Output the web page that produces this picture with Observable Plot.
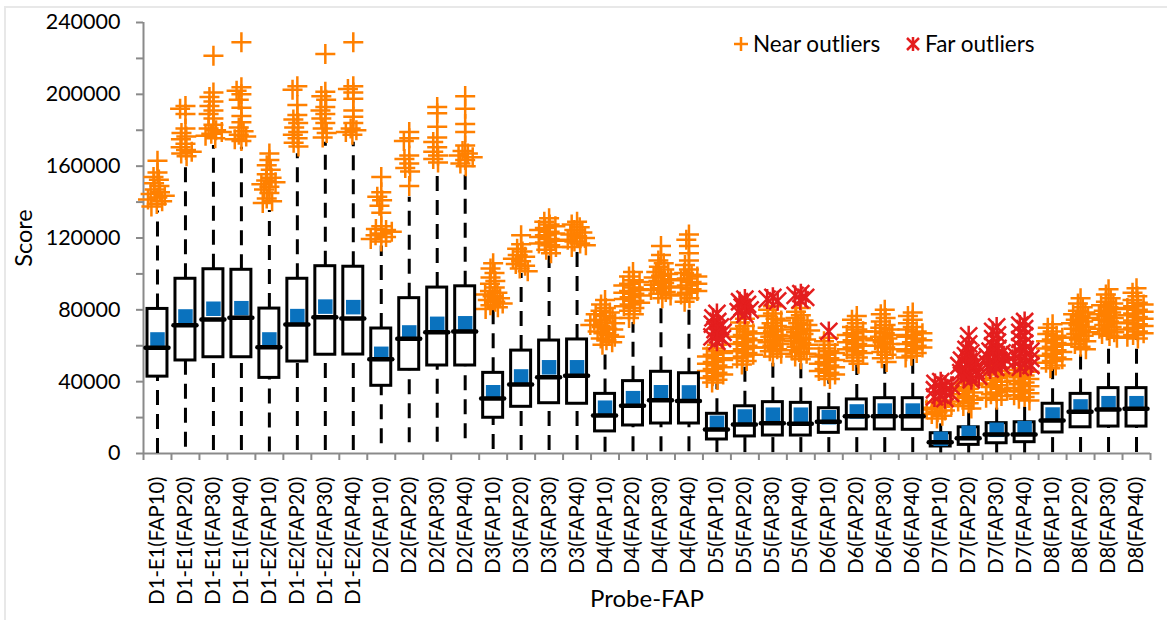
<!DOCTYPE html>
<html>
<head>
<meta charset="utf-8">
<script src="https://cdn.jsdelivr.net/npm/d3@7"></script>
<script src="https://cdn.jsdelivr.net/npm/@observablehq/plot@0.6"></script>
<style>
  body { margin: 0; background: #ffffff; }
  #chart { position: relative; width: 1167px; height: 620px; overflow: hidden; font-family: Lato, "Open Sans", sans-serif; }
  #chart .edge { position: absolute; left: 4px; top: 6px; width: 1200px; height: 700px; border-top: 2px solid #e8e8e8; border-left: 2px solid #e8e8e8; }
  #chart svg.plot { position: absolute; left: 0; top: 0; }
  .legend-item { position: absolute; display: flex; align-items: center; font-size: 22.5px; color: #000; white-space: nowrap; }
  .legend-item svg { margin-right: 4px; }
</style>
</head>
<body>
<div id="chart">
  <div class="edge"></div>
</div>
<script>
// Probe / false-alarm-point combinations along the horizontal axis
const categories = [
  "D1-E1(FAP10)", "D1-E1(FAP20)", "D1-E1(FAP30)", "D1-E1(FAP40)",
  "D1-E2(FAP10)", "D1-E2(FAP20)", "D1-E2(FAP30)", "D1-E2(FAP40)",
  "D2(FAP10)", "D2(FAP20)", "D2(FAP30)", "D2(FAP40)",
  "D3(FAP10)", "D3(FAP20)", "D3(FAP30)", "D3(FAP40)",
  "D4(FAP10)", "D4(FAP20)", "D4(FAP30)", "D4(FAP40)",
  "D5(FAP10)", "D5(FAP20)", "D5(FAP30)", "D5(FAP40)",
  "D6(FAP10)", "D6(FAP20)", "D6(FAP30)", "D6(FAP40)",
  "D7(FAP10)", "D7(FAP20)", "D7(FAP30)", "D7(FAP40)",
  "D8(FAP10)", "D8(FAP20)", "D8(FAP30)", "D8(FAP40)"
];

// Box statistics of the score for each category
const q1 = [42800, 51800, 53600, 53600, 42100, 51200, 55000, 55100, 37700, 46600, 49000, 49000,
  19900, 26000, 28000, 27700, 12300, 15600, 16700, 16700, 7800, 9500, 10000, 10000,
  11500, 13400, 13400, 13200, 3900, 4800, 5700, 6300, 11700, 14600, 15000, 15000];
const q3 = [80500, 97300, 102600, 102300, 80700, 97300, 104300, 104000, 69600, 86500, 92400, 93100,
  44900, 57300, 62900, 63500, 33200, 40300, 45500, 44700, 22100, 26300, 28600, 28200,
  25200, 30100, 30800, 30800, 11300, 14600, 16900, 17400, 27700, 33200, 36400, 36400];
const median = [58900, 71400, 74600, 75600, 59200, 71800, 75900, 75200, 52500, 63900, 67500, 67900,
  30600, 38400, 42500, 43300, 21200, 26600, 29700, 29300, 13400, 16200, 16900, 16500,
  17700, 20800, 20800, 20800, 6300, 8500, 10600, 10600, 18400, 23200, 24500, 24900];
const mean = [63500, 76300, 80600, 80900, 63500, 76500, 81800, 81500, 55500, 67400, 72200, 72500,
  34100, 42900, 48000, 48000, 25500, 30800, 34100, 34000, 17100, 20600, 21600, 21600,
  20200, 23400, 23900, 23900, 8200, 11500, 13200, 14100, 21700, 26200, 28000, 28000];
const whiskerLow = [0, 3500, 1700, 1700, 900, 1700, 1700, 1700, 5400, 6000, 6300, 8200,
  2200, 1700, 1700, 1700, 700, 1000, 1000, 1000, 500, 500, 500, 500,
  500, 500, 500, 500, 300, 300, 300, 300, 500, 500, 500, 500];
const whiskerHigh = [135000, 161500, 171500, 170500, 135300, 166900, 173300, 173300, 115500, 142700, 158500, 157600,
  80000, 100200, 110000, 114000, 59200, 73000, 84000, 81500, 38800, 48000, 52700, 52200,
  40600, 49000, 49500, 52700, 16500, 23000, 27700, 28600, 47200, 57400, 63900, 63900];

// Near outliers per category
const nearOutliers = [
  [163000, 156500, 154000, 152500, 150500, 149000, 147000, 145500, 144500, 143500, 142500, 141500, 140500, 139000, 137500],
  [193500, 192000, 189000, 181000, 178500, 176500, 175000, 172500, 170500, 169000, 168000, 167000, 165500],
  [221500, 201000, 198500, 196000, 193500, 191000, 189000, 186500, 183000, 181000, 180000, 179000, 178000, 177000, 175500],
  [229000, 204000, 202000, 200000, 197000, 192500, 188000, 184500, 181500, 179500, 177500, 176500, 175000, 174000],
  [167000, 163500, 160500, 158000, 155500, 153500, 152000, 151000, 150000, 148500, 147000, 145000, 142000, 140500, 139500],
  [204500, 202500, 194000, 188500, 186000, 184000, 181500, 179000, 177500, 175500, 173000, 171000],
  [222500, 201500, 199000, 197000, 193000, 191000, 189000, 186500, 184000, 181000, 178500, 176000],
  [229000, 204500, 203000, 201000, 197500, 191000, 187500, 184000, 181000, 180000, 179000, 177500],
  [154000, 145500, 143000, 141000, 138000, 134000, 126500, 125000, 124500, 123500, 122500, 121500, 120500, 119500, 118000],
  [179000, 175500, 174000, 166000, 164000, 161500, 159000, 157000, 149000],
  [193000, 189500, 182000, 176000, 173500, 170500, 168000, 166000, 164000, 162000],
  [199000, 192000, 183500, 179000, 171500, 168500, 167000, 166000, 165000, 163500, 161500, 160000],
  [106000, 103000, 100500, 98000, 96000, 94500, 92500, 90500, 89500, 88500, 87500, 86500, 85500, 84500, 83500, 82500, 81500, 80500],
  [121500, 116500, 114000, 112500, 110500, 109500, 108500, 107000, 105500, 104500, 103000, 101500],
  [131000, 129000, 127500, 126500, 125500, 124500, 123500, 122500, 121500, 120500, 119500, 118500, 117500, 117000, 116000, 115000, 113500, 111500],
  [129000, 127500, 126000, 124500, 123000, 122000, 121000, 120000, 119000, 118000, 117000, 116000, 115000],
  [85500, 83000, 81000, 79500, 78500, 77500, 76500, 75500, 74500, 74000, 73000, 72500, 71500, 70500, 69500, 69000, 68000, 67000, 66000, 65000, 64000, 63000, 62000, 60500],
  [101000, 98500, 96500, 95500, 94500, 93500, 92500, 91500, 90500, 89500, 89000, 88000, 87000, 86000, 85000, 84000, 83000, 82000, 81000, 79500, 77500, 75500],
  [115500, 110500, 107500, 106000, 104000, 102500, 101000, 100000, 99000, 98000, 97000, 96000, 95000, 94000, 93000, 92000, 91000, 90000, 89000, 88000, 86500],
  [122000, 119000, 115500, 111500, 107500, 105000, 102500, 100500, 99500, 98500, 97500, 96500, 95500, 94500, 93500, 92500, 91500, 90500, 89500, 88500, 86500, 84500],
  [60500, 58500, 57000, 56000, 55000, 54000, 53000, 52000, 51000, 50000, 49000, 48000, 47000, 46000, 45000, 44000, 43000, 42000, 41000, 39500],
  [75000, 73000, 71000, 69500, 68000, 67000, 66000, 65000, 64000, 63000, 62000, 61000, 60000, 59000, 58000, 57000, 56000, 55000, 54000, 53000, 51500, 49500],
  [82000, 80000, 78000, 76500, 75000, 74000, 72500, 71000, 70000, 69000, 68000, 67000, 66000, 65000, 64000, 63000, 62000, 61000, 60000, 59000, 58000, 57000, 55500, 54000],
  [81000, 79000, 77000, 75500, 74000, 72500, 71500, 70500, 69500, 68500, 67500, 66500, 65500, 64500, 63500, 62500, 61500, 60500, 59500, 58500, 57500, 56500, 55500, 54000, 52500],
  [64500, 62500, 60500, 58500, 57000, 56000, 55000, 54000, 53000, 52000, 51000, 50000, 49000, 48000, 47000, 46000, 45000, 44000, 43000, 41500],
  [76500, 74500, 72500, 70500, 69000, 68000, 67000, 66000, 65000, 64000, 63000, 62000, 61000, 60000, 59000, 58000, 57000, 56000, 55000, 53500, 51500, 50000],
  [80000, 77500, 75500, 73500, 71500, 70000, 69000, 68000, 67000, 66000, 65000, 64000, 63000, 62000, 61000, 60000, 59000, 58000, 56500, 55000, 53000, 51000],
  [78500, 76500, 74500, 72500, 70500, 69000, 68000, 67000, 66000, 65000, 64000, 63000, 62000, 61000, 60000, 59000, 58000, 57000, 56000, 54500, 53500],
  [29500, 28500, 27500, 27000, 26000, 25500, 24500, 24000, 23000, 22000, 21000, 19500],
  [40000, 39000, 38000, 37000, 36000, 35000, 34000, 33000, 32000, 31000, 30000, 29000, 28000, 26500, 25000],
  [46000, 45000, 44000, 43000, 42000, 41000, 40000, 39000, 38000, 37000, 36000, 35000, 34000, 33000, 32000, 31000, 30000],
  [47500, 46500, 45500, 44500, 43500, 42500, 41500, 40500, 39500, 38500, 37500, 36500, 35500, 34500, 33500, 32500, 31500, 30500, 29500],
  [72000, 70000, 68000, 66500, 65500, 64500, 63500, 62500, 61500, 60500, 59500, 58500, 57500, 56500, 55500, 54500, 53500, 52500, 51500, 50500, 49000, 47500],
  [86500, 83500, 81500, 79500, 78500, 77500, 76500, 75500, 74500, 73500, 72500, 71500, 70500, 69500, 68500, 67500, 66500, 65500, 64500, 63500, 62500, 61000, 59500, 58000],
  [91500, 88500, 86500, 84500, 83500, 82500, 81500, 80500, 79500, 78500, 77500, 76500, 75500, 74500, 73500, 72500, 71500, 70500, 69500, 68500, 67500, 66500, 65500, 64500],
  [92000, 89500, 87500, 85500, 84000, 83000, 82000, 81000, 80000, 79000, 78000, 77000, 76000, 75000, 74000, 73000, 72000, 71000, 70000, 69000, 68000, 67000, 66000, 65000, 64000]
];

// Far outliers per category
const farOutliers = [
  [], [], [], [], [], [], [], [], [], [], [], [],
  [], [], [], [], [], [], [], [],
  [78000, 75500, 73500, 72000, 70500, 69000, 67500, 66000, 65000, 64000, 62500],
  [86000, 84500, 83000, 81500, 80000, 79000, 77500],
  [87000, 86000, 85000],
  [89000, 88000, 87000, 85500],
  [68000], [], [], [],
  [40000, 39000, 38000, 37500, 36500, 35500, 34500, 33500, 32500, 31500, 30500],
  [65500, 61000, 58000, 56000, 54500, 53000, 52000, 51000, 50000, 49000, 48000, 47000, 46000, 45000, 44000, 43000, 42000, 41000],
  [70500, 68000, 66000, 64000, 62000, 60000, 58500, 57000, 56000, 55000, 54000, 53000, 52000, 51000, 50000, 49000, 48000, 47000],
  [73500, 71500, 69500, 67500, 65500, 63500, 61500, 59500, 58000, 57000, 56000, 55000, 54000, 53000, 52000, 51000, 50000, 49000, 48000],
  [], [], [], []
];

// Y axis tick values and labels
const yTicks = [0, 20000, 40000, 60000, 80000, 100000, 120000, 140000, 160000, 180000, 200000, 220000, 240000];
const yLabeled = [0, 40000, 80000, 120000, 160000, 200000, 240000];

const axisGrey = "#8a8a8a";
const orange = "#ff8000";
const red = "#e41e1e";
const blue = "#0a72be";

// Tables built from the arrays above
const stats = categories.map((cat, i) => ({
  cat, q1: q1[i], q3: q3[i], median: median[i], mean: mean[i], lo: whiskerLow[i], hi: whiskerHigh[i]
}));
const near = categories.flatMap((cat, i) => nearOutliers[i].map(value => ({cat, value})));
const far = categories.flatMap((cat, i) => farOutliers[i].map(value => ({cat, value})));
const edges = categories.map(cat => ({cat, edge: 0}))
  .concat([{cat: categories[categories.length - 1], edge: 1}]);

// Star marker: a vertical stroke crossed by an X
const star = {
  draw(context, size) {
    const r = Math.sqrt(size / Math.PI);
    const d = r * 0.85;
    context.moveTo(0, -r); context.lineTo(0, r);
    context.moveTo(-d, -d); context.lineTo(d, d);
    context.moveTo(-d, d); context.lineTo(d, -d);
  }
};

const plot = Plot.plot({
  width: 1167,
  height: 620,
  marginTop: 22,
  marginRight: 17,
  marginBottom: 167,
  marginLeft: 143,
  style: {fontFamily: "Lato, 'Open Sans', sans-serif", fontSize: "21px", color: "#000", background: "transparent", overflow: "visible"},
  fx: {domain: categories, padding: 0, axis: null},
  x: {domain: [0, 1], axis: null},
  y: {domain: [0, 240000], axis: null},
  marks: [
    // axes
    Plot.axisY({
      ticks: yTicks,
      tickFormat: d => yLabeled.includes(d) ? String(d) : "",
      tickSize: 7,
      tickPadding: 16,
      stroke: axisGrey,
      strokeWidth: 2,
      fill: "#000",
      fontSize: 21.5,
      label: null,
      facetAnchor: "left"
    }),
    Plot.axisY({
      ticks: [],
      label: "Score",
      labelAnchor: "center",
      labelArrow: "none",
      labelOffset: 128,
      fontSize: 23.5,
      fill: "#000",
      facetAnchor: "left"
    }),
    Plot.axisFx({
      anchor: "bottom",
      tickSize: 0,
      tickPadding: 23,
      tickRotate: -90,
      fill: "#000",
      fontSize: 20.2,
      label: null
    }),
    Plot.axisFx({
      anchor: "bottom",
      ticks: [],
      label: "Probe-FAP",
      labelAnchor: "center",
      labelArrow: "none",
      labelOffset: 153,
      fontSize: 24,
      fill: "#000"
    }),
    Plot.ruleY([0], {stroke: axisGrey, strokeWidth: 2}),
    Plot.ruleX(stats.slice(0, 1), {fx: "cat", x: 0, y1: 0, y2: 240000, stroke: axisGrey, strokeWidth: 2}),
    Plot.ruleX(edges, {fx: "cat", x: "edge", y1: 0, y2: 0, insetBottom: -7, stroke: axisGrey, strokeWidth: 2}),

    // whiskers, centred in each category
    Plot.ruleX(stats, {fx: "cat", x: null, y1: "lo", y2: "q1", stroke: "#000", strokeWidth: 3, strokeDasharray: "15,9"}),
    Plot.ruleX(stats, {fx: "cat", x: null, y1: "q3", y2: "hi", stroke: "#000", strokeWidth: 3, strokeDasharray: "15,9"}),

    // outliers
    Plot.dot(near, Plot.dodgeX({anchor: "middle", padding: 0, r: 3}, {
      fx: "cat", y: "value", symbol: "plus", r: 6.5, stroke: orange, strokeWidth: 2.5
    })),
    Plot.dot(far, Plot.dodgeX({anchor: "middle", padding: 0, r: 3}, {
      fx: "cat", y: "value", symbol: star, r: 10, stroke: red, strokeWidth: 2.5
    })),

    // boxes, means and medians
    Plot.rect(stats, {fx: "cat", y1: "q1", y2: "q3", insetLeft: 4, insetRight: 4, fill: "#fff", stroke: "#000", strokeWidth: 3}),
    Plot.dot(stats, {fx: "cat", y: "mean", symbol: "square", r: 8.2, fill: blue, stroke: "none"}),
    Plot.ruleY(stats, {fx: "cat", y: "median", insetLeft: 2.5, insetRight: 2.5, stroke: "#000", strokeWidth: 4.5, strokeLinecap: "round"})
  ]
});
plot.classList.add("plot");
document.getElementById("chart").appendChild(plot);

// Legend for the two outlier kinds
const legendItems = [
  {label: "Near outliers", left: 733, color: orange, draw: "M1,8H15M8,1V15"},
  {label: "Far outliers", left: 905, color: red, draw: "M8,1V15M2,2L14,14M2,14L14,2"}
];
const chart = d3.select("#chart");
for (const item of legendItems) {
  const div = chart.append("div").attr("class", "legend-item").style("left", item.left + "px").style("top", "30px");
  div.append("svg").attr("width", 16).attr("height", 16)
    .append("path").attr("d", item.draw).attr("stroke", item.color).attr("stroke-width", 2.5).attr("fill", "none");
  div.append("span").text(item.label);
}
</script>
</body>
</html>
